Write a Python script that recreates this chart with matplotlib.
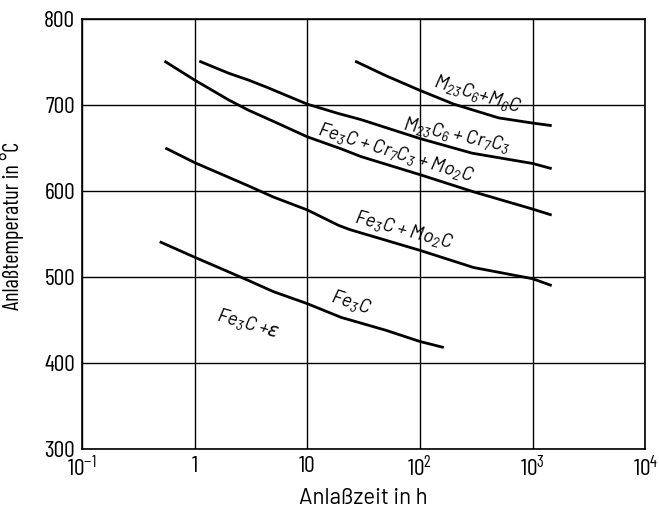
import numpy as np
from matplotlib import pyplot as plt

#DIN-like lettering as in the original
plt.rcParams['font.family'] = ['Barlow Condensed', 'DejaVu Sans']
plt.rcParams['mathtext.default'] = 'regular'
wide = ['Barlow', 'Barlow Semi Condensed', 'DejaVu Sans']

#curves: time in h, temperature in degC
t_m23m6 = [26.6, 50, 100, 200, 500, 1000, 1480]
T_m23m6 = [751, 734, 717, 701, 685, 679, 676]

t_m23cr = [1.1, 2, 3, 4.3, 10, 19, 30, 100, 290, 1000, 1480]
T_m23cr = [751, 737, 729, 721, 701, 690, 683, 661, 644, 632, 626]

t_fecrmo = [0.54, 1, 2, 3, 5, 10, 20, 30, 100, 300, 1000, 1480]
T_fecrmo = [751, 729, 706, 694, 681, 663, 649, 640, 619, 599, 579, 572]

t_femo = [0.55, 1, 3, 5, 10, 19, 24, 100, 300, 1000, 1480]
T_femo = [650, 633, 606, 593, 578, 560, 555, 531, 511, 498, 490]

t_fe3c = [0.49, 1, 2, 3, 5, 10, 20, 50, 100, 163]
T_fe3c = [541, 523, 506, 496, 483, 469, 453, 438, 425, 418]

curves = [(t_m23m6, T_m23m6), (t_m23cr, T_m23cr), (t_fecrmo, T_fecrmo),
          (t_femo, T_femo), (t_fe3c, T_fe3c)]

#region labels: text, x, y, angle
labels = ['M$_{23}$C$_6$+M$_6$C', 'M$_{23}$C$_6$ + Cr$_7$C$_3$',
          'Fe$_3$C + Cr$_7$C$_3$ + Mo$_2$C', 'Fe$_3$C + Mo$_2$C',
          'Fe$_3$C', 'Fe$_3$C +$\\mathit{\\varepsilon}$']
label_x = [326, 212, 61, 72, 24.5, 2.95]
label_y = [712, 665, 645, 555, 470, 446]
label_rot = [-17, -12, -17, -15, -18, -16]

xticks = [0.1, 1, 10, 100, 1000, 10000]
xticklabels = ['10$^{-1}$', '1', '10', '10$^2$', '10$^3$', '10$^4$']
yticks = [300, 400, 500, 600, 700, 800]

fig = plt.figure(figsize=(6.59, 5.09), dpi=100)
ax = fig.add_axes([0.1244, 0.1179, 0.8546, 0.8448])

for t, T in curves:
    ax.plot(t, T, color='black', lw=2.0, solid_capstyle='butt')

for s, x, y, r in zip(labels, label_x, label_y, label_rot):
    ax.text(x, y, s, rotation=r, rotation_mode='anchor', ha='center', va='center',
            fontsize=14, fontstyle='italic', family=wide)

ax.set_xscale('log')
ax.set_xlim(0.1, 10000)
ax.set_ylim(300, 800)
ax.set_xticks(xticks)
ax.set_xticklabels(xticklabels)
ax.set_yticks(yticks)
ax.minorticks_off()
ax.tick_params(length=0, labelsize=17, pad=5)
ax.grid(True, color='black', lw=1.0)
for sp in ax.spines.values():
    sp.set_linewidth(1.2)

ax.set_xlabel('Anlaßzeit in h', fontsize=16, family=wide, labelpad=5)
ax.set_ylabel('Anlaßtemperatur in °C', fontsize=16)
ax.yaxis.set_label_coords(-0.103, 0.52)

plt.savefig('out.png', dpi=100)
